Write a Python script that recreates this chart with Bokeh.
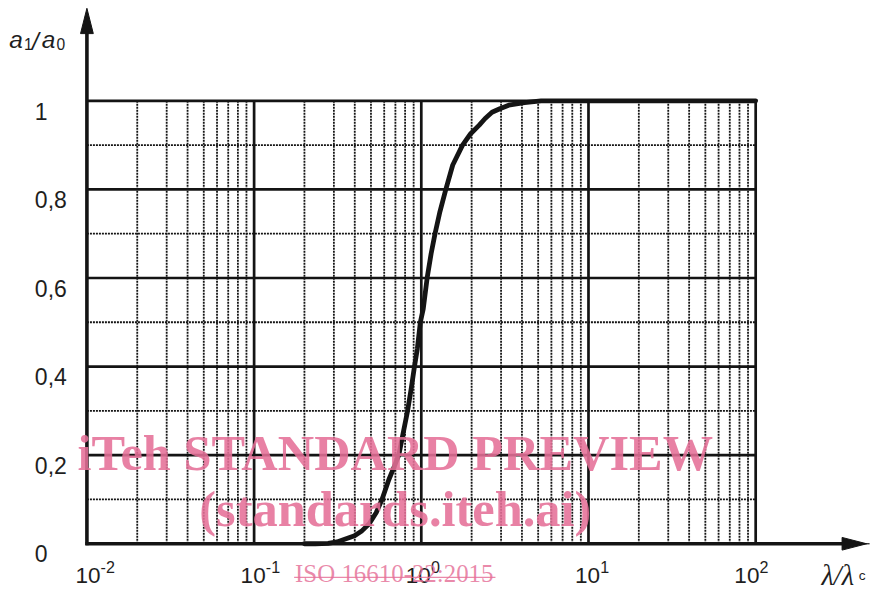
from bokeh.plotting import figure
from bokeh.models import Range1d
from bokeh.embed import file_html
from bokeh.resources import INLINE
from bokeh.core.properties import value

# ---------------- data ----------------
wavelength_ratio = [0.20, 0.232, 0.277, 0.313, 0.348, 0.399, 0.438, 0.488, 0.537, 0.582,
                    0.640, 0.685, 0.733, 0.784, 0.828, 0.874, 0.910, 0.947, 0.987, 1.027,
                    1.084, 1.145, 1.208, 1.293, 1.402, 1.542, 1.765, 1.967, 2.221, 2.409,
                    2.648, 2.950, 3.333, 3.710, 4.139, 5.207, 20.0, 100.0]
amplitude_ratio = [0.0, 0.0, 0.001, 0.004, 0.010, 0.018, 0.028, 0.045, 0.070, 0.100,
                   0.145, 0.172, 0.200, 0.255, 0.300, 0.355, 0.400, 0.440, 0.500, 0.530,
                   0.600, 0.655, 0.700, 0.750, 0.800, 0.855, 0.900, 0.925, 0.945, 0.960,
                   0.974, 0.982, 0.990, 0.993, 0.996, 1.000, 1.000, 1.000]

x_decade_exponents = [-2, -1, 0, 1, 2]
x_tick_base = "10"
x_tick_sup = ["-2", "-1", "0", "1", "2"]
x_label_shift = [1, -1, -3, -1, -9]          # px shift of each tick label
minor_multipliers = [2, 3, 4, 5, 6, 7, 8, 9]

y_major_ticks = [0.0, 0.2, 0.4, 0.6, 0.8, 1.0]
y_major_labels = ["0", "0,2", "0,4", "0,6", "0,8", "1"]
y_minor_ticks = [0.1, 0.3, 0.5, 0.7, 0.9]

watermark_lines = ["iTeh STANDARD PREVIEW", "(standards.iteh.ai)"]
watermark_ref = "ISO 16610-22:2015"

# ---------------- layout (reference pixel frame, 890 x 606) ----------------
W, H = 874, 590
REF_W, REF_H = 890.0, 606.0
S = (W / REF_W + H / REF_H) / 2      # pixel scale for fonts / offsets
X_DEC0 = 88.0       # pixel of 10^-2
DEC_PX = 170.25     # pixels per decade
Y0_PX = 558.0       # pixel of 0
Y1_PX = 103.0       # pixel of 1
BOTTOM_BASE = 591.0  # baseline of bottom labels


def xr(X):
    return 10 ** (-2 + (X - X_DEC0) / DEC_PX)


def yr(Y):
    return (Y0_PX - Y) / (Y0_PX - Y1_PX)


def fs(px):
    return value("%.1fpx" % (px * S))


INK = "#141414"
TXT = "#1e1e1e"
PINK = "#e56f97"

p = figure(width=W, height=H, x_axis_type="log",
           x_range=Range1d(xr(0), xr(REF_W)),
           y_range=Range1d(yr(REF_H), yr(0)),
           x_axis_location=None, y_axis_location=None,
           output_backend="svg", toolbar_location=None, min_border=0)
p.outline_line_color = None
p.background_fill_color = "white"
p.border_fill_color = "white"
p.xgrid.visible = False
p.ygrid.visible = False

xmin = 10.0 ** x_decade_exponents[0]
xmax = 10.0 ** x_decade_exponents[-1]

# minor vertical (dotted)
minor_x = [m * 10.0 ** e for e in x_decade_exponents[:-1] for m in minor_multipliers]
n = len(minor_x)
p.segment(x0=minor_x, y0=[0] * n, x1=minor_x, y1=[1] * n,
          line_color=INK, line_width=1.8, line_dash="2 1")
# minor horizontal (dotted)
m = len(y_minor_ticks)
p.segment(x0=[xmin] * m, y0=y_minor_ticks, x1=[xmax] * m, y1=y_minor_ticks,
          line_color=INK, line_width=1.8, line_dash="2 1")
# major vertical
major_x = [10.0 ** e for e in x_decade_exponents[1:]]
k = len(major_x)
p.segment(x0=major_x, y0=[0] * k, x1=major_x, y1=[1] * k,
          line_color=INK, line_width=2.7)
# major horizontal
ym = y_major_ticks[1:]
j = len(ym)
p.segment(x0=[xmin] * j, y0=ym, x1=[xmax] * j, y1=ym,
          line_color=INK, line_width=2.7)

# curve
p.line(wavelength_ratio, amplitude_ratio, line_color=INK, line_width=4.8,
       line_join="round", line_cap="round")

# axes with arrow heads
p.segment(x0=[xmin], y0=[yr(Y0_PX + 1.5)], x1=[xmin], y1=[yr(28)],
          line_color=INK, line_width=3.6)
p.patch(x=[xr(X_DEC0 - 6.5), xr(X_DEC0), xr(X_DEC0 + 6.5)],
        y=[yr(34), yr(8), yr(34)], fill_color=INK, line_color=INK)
p.segment(x0=[xr(X_DEC0 - 1.5)], y0=[0], x1=[xr(862)], y1=[0],
          line_color=INK, line_width=3.6)
p.segment(x0=[xr(862)], y0=[0], x1=[xr(885)], y1=[0],
          line_color=INK, line_width=1.2)
p.patch(x=[xr(857), xr(882), xr(857)],
        y=[yr(Y0_PX - 6.5), 0, yr(Y0_PX + 6.5)], fill_color=INK, line_color=INK)

# y tick labels (left aligned)
p.text(x=[xr(35)] * len(y_major_ticks),
       y=[yr(Y0_PX - v * (Y0_PX - Y1_PX) + 10.5) for v in y_major_ticks],
       text=y_major_labels,
       text_font=value("Liberation Sans"), text_font_size=fs(23.5),
       text_align="left", text_baseline="alphabetic", text_color=TXT)

# x tick labels: "10" plus superscript exponent
xt = [10.0 ** e for e in x_decade_exponents]
p.text(x=xt, y=[yr(BOTTOM_BASE)] * len(xt), text=[x_tick_base] * len(xt),
       x_offset=[s * S for s in x_label_shift],
       text_font=value("Liberation Sans"), text_font_size=fs(23),
       text_align="center", text_baseline="alphabetic", text_color=TXT)
p.text(x=xt, y=[yr(BOTTOM_BASE - 9)] * len(xt), text=x_tick_sup,
       x_offset=[(s + 13) * S for s in x_label_shift],
       text_font=value("Liberation Sans"), text_font_size=fs(16.5),
       text_align="left", text_baseline="alphabetic", text_color=TXT)

# axis titles
p.text(x=[xr(9), xr(42)], y=[yr(40), yr(40)], text=["a", "a"],
       text_font=value("Liberation Sans"), text_font_size=fs(25),
       text_font_style="italic", text_align="left", text_baseline="alphabetic",
       text_color=TXT)
p.text(x=[xr(32)], y=[yr(42)], text=["/"],
       text_font=value("Liberation Sans"), text_font_size=fs(25),
       text_font_style="italic", text_align="left", text_baseline="alphabetic",
       text_color=TXT)
p.text(x=[xr(24), xr(57)], y=[yr(45), yr(45)], text=["1", "0"],
       text_font=value("Liberation Sans"), text_font_size=fs(16),
       text_align="left", text_baseline="alphabetic", text_color=TXT)
p.text(x=[xr(836)], y=[yr(BOTTOM_BASE)], text=["λ/λ"],
       text_font=value("Liberation Serif"), text_font_size=fs(29),
       text_font_style="italic", text_align="left", text_baseline="alphabetic",
       text_color=TXT)
p.text(x=[xr(874)], y=[yr(BOTTOM_BASE)], text=["c"],
       text_font=value("Liberation Sans"), text_font_size=fs(14),
       text_align="left", text_baseline="alphabetic", text_color=TXT)

# watermark
p.text(x=[xr(402), xr(402)], y=[yr(465), yr(522)], text=watermark_lines,
       text_font=value("Liberation Serif"), text_font_size=fs(51.5),
       text_font_style="bold", text_align="center", text_baseline="alphabetic",
       text_color=PINK, text_alpha=0.88)
p.text(x=[xr(401)], y=[yr(BOTTOM_BASE - 2)], text=[watermark_ref],
       text_font=value("Liberation Serif"), text_font_size=fs(25.5),
       text_align="center", text_baseline="alphabetic",
       text_color=PINK, text_alpha=0.82)
p.segment(x0=[xr(299)], y0=[yr(BOTTOM_BASE + 1.5)], x1=[xr(504)], y1=[yr(BOTTOM_BASE + 1.5)],
          line_color=PINK, line_alpha=0.82, line_width=1.4)

open("out.html", "w").write(file_html(p, INLINE))
